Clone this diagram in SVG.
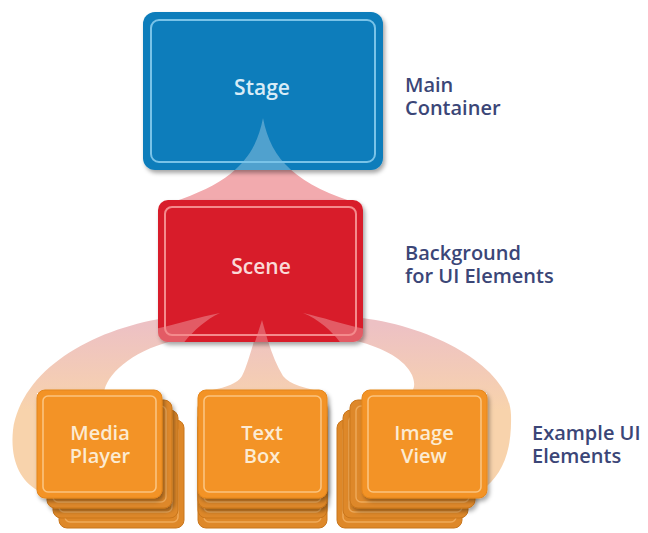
<svg xmlns="http://www.w3.org/2000/svg" width="648" height="533" viewBox="0 0 648 533">
  <defs>
    <style>
      .lbl { font-family: "Open Sans", "Liberation Sans", sans-serif; font-weight: 600; font-size: 20px; fill: #3B4677; }
      .nodetxt { font-family: "Open Sans", "Liberation Sans", sans-serif; font-weight: 600; font-size: 20px; text-anchor: middle; }
      .front { fill: #F39325; stroke: #E4861C; stroke-width: 1; }
      .frontin { fill: none; stroke: #FBC47F; stroke-width: 1.6; }
      .back { fill: #DE8829; stroke: #C9761C; stroke-width: 1; }
      .backin { fill: none; stroke: #F0AA5A; stroke-width: 1.4; }
      .ray { fill: #FFFFFF; fill-opacity: 0.28; }
    </style>
    <filter id="sh" x="-10%" y="-10%" width="125%" height="130%">
      <feDropShadow dx="2" dy="3" stdDeviation="2.2" flood-color="#000" flood-opacity="0.35"/>
    </filter>
    <linearGradient id="bandg" gradientUnits="userSpaceOnUse" x1="0" y1="325" x2="0" y2="410">
      <stop offset="0" stop-color="#EDC1C4"/>
      <stop offset="1" stop-color="#F8D3AC"/>
    </linearGradient>
    <clipPath id="clipStage"><rect x="143" y="12" width="240" height="158" rx="12"/></clipPath>
    <clipPath id="clipScene"><rect x="158" y="200" width="205" height="142" rx="10"/></clipPath>
  </defs>

  <rect width="648" height="533" fill="#FFFFFF"/>

  <g id="connectors">
    <path d="M263,118 C255,160 230,185 163,205 L363,205 C296,185 271,160 263,118 Z" fill="#F2AAAE"/>
    <path fill="url(#bandg)" fill-rule="evenodd" d="M165,318 L362,318 C440,328 510,370 511,415 C512,450 503,472 487,486 L487,393 L37,393 L37,490 C20,480 10,460 13,430 C22,370 90,330 165,318 Z
      M104,393 C106,375 130,352 172,341 L254,341 C250,355 246,368 242,376 C236,386 218,389 198,393 Z
      M268,341 L356,341 C385,348 405,360 412,375 C416,385 414,390 410,393 L327,393 C305,388 290,385 283,376 C277,366 272,354 268,341 Z"/>
  </g>

  <g id="stage">
    <rect x="143" y="12" width="240" height="158" rx="12" fill="#0A7DBB" filter="url(#sh)"/>
    <path class="ray" clip-path="url(#clipStage)" d="M263,118 C255,160 230,185 163,205 L363,205 C296,185 271,160 263,118 Z"/>
    <rect x="151" y="20" width="224" height="142" rx="8" fill="none" stroke="#79C3E8" stroke-width="2"/>
    <text class="nodetxt" x="262" y="95" fill="#D8ECF7" style="font-size:21px">Stage</text>
  </g>

  <g id="scene">
    <rect x="158" y="200" width="205" height="142" rx="10" fill="#D81F2A" filter="url(#sh)"/>
    <g clip-path="url(#clipScene)">
      <path class="ray" d="M220,313 C195,318 175,325 150,330 L150,345 L182,345 C192,332 205,320 220,313 Z"/>
      <path class="ray" d="M303,313 C325,318 345,325 370,330 L370,345 L342,345 C333,332 320,320 303,313 Z"/>
      <path class="ray" d="M262,320 L254,345 L269,345 Z"/>
    </g>
    <rect x="165" y="207" width="191" height="128" rx="7" fill="none" stroke="#F48A8C" stroke-width="2"/>
    <text class="nodetxt" x="261" y="274" fill="#FADAD8" style="font-size:21px">Scene</text>
  </g>

  <g id="media-player">
    <rect class="back" x="59" y="420" width="125" height="108" rx="8"/>
    <rect class="backin" x="65" y="426" width="113" height="96" rx="5"/>
    <rect class="back" x="53" y="410" width="125" height="108" rx="8"/>
    <rect class="backin" x="59" y="416" width="113" height="96" rx="5"/>
    <rect class="back" x="47" y="400" width="125" height="108" rx="8" filter="url(#sh)"/>
    <rect class="backin" x="53" y="406" width="113" height="96" rx="5"/>
    <rect class="front" x="37" y="390" width="125" height="108" rx="8" filter="url(#sh)"/>
    <rect class="frontin" x="43" y="396" width="113" height="96" rx="5"/>
    <text class="nodetxt" x="100" y="440" fill="#FCEBD2">Media</text>
    <text class="nodetxt" x="100" y="463" fill="#FCEBD2">Player</text>
  </g>

  <g id="text-box">
    <rect class="back" x="198" y="420" width="129" height="108" rx="8"/>
    <rect class="backin" x="204" y="426" width="117" height="96" rx="5"/>
    <rect class="back" x="198" y="410" width="129" height="108" rx="8"/>
    <rect class="backin" x="204" y="416" width="117" height="96" rx="5"/>
    <rect class="back" x="198" y="400" width="129" height="108" rx="8" filter="url(#sh)"/>
    <rect class="backin" x="204" y="406" width="117" height="96" rx="5"/>
    <rect class="front" x="198" y="390" width="129" height="108" rx="8" filter="url(#sh)"/>
    <rect class="frontin" x="204" y="396" width="117" height="96" rx="5"/>
    <text class="nodetxt" x="262" y="440" fill="#FCEBD2">Text</text>
    <text class="nodetxt" x="262" y="463" fill="#FCEBD2">Box</text>
  </g>

  <g id="image-view">
    <rect class="back" x="337" y="420" width="125" height="108" rx="8"/>
    <rect class="backin" x="343" y="426" width="113" height="96" rx="5"/>
    <rect class="back" x="343" y="410" width="125" height="108" rx="8"/>
    <rect class="backin" x="349" y="416" width="113" height="96" rx="5"/>
    <rect class="back" x="350" y="400" width="125" height="108" rx="8" filter="url(#sh)"/>
    <rect class="backin" x="356" y="406" width="113" height="96" rx="5"/>
    <rect class="front" x="362" y="390" width="125" height="108" rx="8" filter="url(#sh)"/>
    <rect class="frontin" x="368" y="396" width="113" height="96" rx="5"/>
    <text class="nodetxt" x="424" y="440" fill="#FCEBD2">Image</text>
    <text class="nodetxt" x="424" y="463" fill="#FCEBD2">View</text>
  </g>

  <g id="labels">
    <text class="lbl" x="405" y="92">Main</text>
    <text class="lbl" x="405" y="115">Container</text>
    <text class="lbl" x="405" y="260">Background</text>
    <text class="lbl" x="405" y="283">for UI Elements</text>
    <text class="lbl" x="532" y="440">Example UI</text>
    <text class="lbl" x="532" y="463">Elements</text>
  </g>
</svg>
